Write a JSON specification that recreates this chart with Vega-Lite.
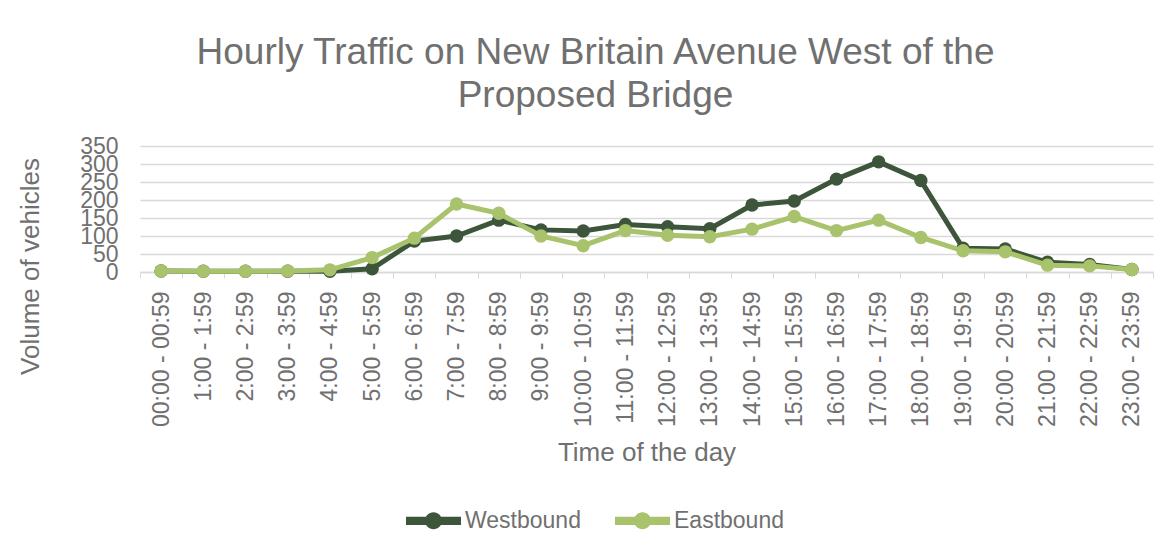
{
  "$schema": "https://vega.github.io/schema/vega-lite/v6.json",
  "autosize": {"type": "none"},
  "width": 1013,
  "height": 126,
  "padding": {"left": 140, "top": 146, "right": 18, "bottom": 282},
  "background": "white",
  "config": {
    "font": "Liberation Sans",
    "view": {"stroke": null},
    "axis": {"labelFont": "Liberation Sans", "titleFont": "Liberation Sans", "labelColor": "#707070", "titleColor": "#707070", "titleFontWeight": "normal"},
    "title": {"font": "Liberation Sans", "color": "#707070", "fontWeight": "normal"},
    "legend": {"labelFont": "Liberation Sans", "labelColor": "#707070"}
  },
  "title": {
    "text": ["Hourly Traffic on New Britain Avenue West of the", "Proposed Bridge"],
    "fontSize": 37,
    "lineHeight": 43,
    "anchor": "middle",
    "dx": -51,
    "offset": 20
  },
  "datasets": {
    "traffic": [
      {"time": "00:00 - 00:59", "dir": "Westbound", "v": 3},
      {"time": "1:00 - 1:59", "dir": "Westbound", "v": 2},
      {"time": "2:00 - 2:59", "dir": "Westbound", "v": 2},
      {"time": "3:00 - 3:59", "dir": "Westbound", "v": 2},
      {"time": "4:00 - 4:59", "dir": "Westbound", "v": 2},
      {"time": "5:00 - 5:59", "dir": "Westbound", "v": 9},
      {"time": "6:00 - 6:59", "dir": "Westbound", "v": 86},
      {"time": "7:00 - 7:59", "dir": "Westbound", "v": 100},
      {"time": "8:00 - 8:59", "dir": "Westbound", "v": 144},
      {"time": "9:00 - 9:59", "dir": "Westbound", "v": 117},
      {"time": "10:00 - 10:59", "dir": "Westbound", "v": 114},
      {"time": "11:00 - 11:59", "dir": "Westbound", "v": 132},
      {"time": "12:00 - 12:59", "dir": "Westbound", "v": 126},
      {"time": "13:00 - 13:59", "dir": "Westbound", "v": 120},
      {"time": "14:00 - 14:59", "dir": "Westbound", "v": 186},
      {"time": "15:00 - 15:59", "dir": "Westbound", "v": 197},
      {"time": "16:00 - 16:59", "dir": "Westbound", "v": 258},
      {"time": "17:00 - 17:59", "dir": "Westbound", "v": 306},
      {"time": "18:00 - 18:59", "dir": "Westbound", "v": 254},
      {"time": "19:00 - 19:59", "dir": "Westbound", "v": 66},
      {"time": "20:00 - 20:59", "dir": "Westbound", "v": 64},
      {"time": "21:00 - 21:59", "dir": "Westbound", "v": 27},
      {"time": "22:00 - 22:59", "dir": "Westbound", "v": 21},
      {"time": "23:00 - 23:59", "dir": "Westbound", "v": 7},
      {"time": "00:00 - 00:59", "dir": "Eastbound", "v": 3},
      {"time": "1:00 - 1:59", "dir": "Eastbound", "v": 2},
      {"time": "2:00 - 2:59", "dir": "Eastbound", "v": 2},
      {"time": "3:00 - 3:59", "dir": "Eastbound", "v": 3},
      {"time": "4:00 - 4:59", "dir": "Eastbound", "v": 6},
      {"time": "5:00 - 5:59", "dir": "Eastbound", "v": 40},
      {"time": "6:00 - 6:59", "dir": "Eastbound", "v": 94},
      {"time": "7:00 - 7:59", "dir": "Eastbound", "v": 189},
      {"time": "8:00 - 8:59", "dir": "Eastbound", "v": 163},
      {"time": "9:00 - 9:59", "dir": "Eastbound", "v": 100},
      {"time": "10:00 - 10:59", "dir": "Eastbound", "v": 73},
      {"time": "11:00 - 11:59", "dir": "Eastbound", "v": 115},
      {"time": "12:00 - 12:59", "dir": "Eastbound", "v": 102},
      {"time": "13:00 - 13:59", "dir": "Eastbound", "v": 98},
      {"time": "14:00 - 14:59", "dir": "Eastbound", "v": 119},
      {"time": "15:00 - 15:59", "dir": "Eastbound", "v": 154},
      {"time": "16:00 - 16:59", "dir": "Eastbound", "v": 115},
      {"time": "17:00 - 17:59", "dir": "Eastbound", "v": 144},
      {"time": "18:00 - 18:59", "dir": "Eastbound", "v": 96},
      {"time": "19:00 - 19:59", "dir": "Eastbound", "v": 59},
      {"time": "20:00 - 20:59", "dir": "Eastbound", "v": 56},
      {"time": "21:00 - 21:59", "dir": "Eastbound", "v": 19},
      {"time": "22:00 - 22:59", "dir": "Eastbound", "v": 17},
      {"time": "23:00 - 23:59", "dir": "Eastbound", "v": 7}
    ]
  },
  "data": {"name": "traffic"},
  "encoding": {
    "x": {
      "field": "time",
      "type": "nominal",
      "sort": null,
      "bandPosition": 0.5,
      "scale": {"type": "band", "paddingInner": 0, "paddingOuter": 0},
      "axis": {
        "title": "Time of the day",
        "titleFontSize": 26,
        "titleY": 180,
        "titleBaseline": "middle",
        "labelAngle": -90,
        "labelAlign": "right",
        "labelBaseline": "middle",
        "labelFontSize": 23,
        "labelPadding": 13,
        "labelOverlap": false,
        "tickBand": "extent",
        "tickSize": 6,
        "tickColor": "#d9d9d9",
        "domainColor": "#d9d9d9",
        "domainWidth": 1.5,
        "grid": false
      }
    },
    "y": {
      "field": "v",
      "type": "quantitative",
      "scale": {"domain": [0, 350], "nice": false},
      "axis": {
        "title": "Volume of vehicles",
        "titleFontSize": 26,
        "titleX": -110,
        "titleY": 120,
        "titleBaseline": "middle",
        "titleAlign": "center",
        "values": [0, 50, 100, 150, 200, 250, 300, 350],
        "labelFontSize": 23,
        "labelPadding": 22,
        "labelOverlap": false,
        "labelFlush": false,
        "labelBound": false,
        "ticks": false,
        "domain": false,
        "grid": true,
        "gridColor": "#d9d9d9",
        "gridWidth": 1.5
      }
    },
    "color": {
      "field": "dir",
      "type": "nominal",
      "scale": {"domain": ["Westbound", "Eastbound"], "range": ["#3d553a", "#a8c36b"]},
      "legend": {
        "title": null,
        "orient": "none",
        "direction": "horizontal",
        "legendX": 266,
        "legendY": 347,
        "labelFontSize": 23,
        "columnPadding": 34,
        "symbolSize": 3025,
        "symbolType": "M-1,-0.15H1V0.15H-1Z M0.31,0A0.31,0.31 0 1,1 -0.31,0A0.31,0.31 0 1,1 0.31,0Z",
        "symbolStrokeWidth": 0,
        "labelOffset": 4,
        "encode": {"symbols": {"update": {"fill": {"scale": "color", "field": "value"}, "stroke": {"value": "transparent"}, "fillOpacity": {"value": 1}}}}
      }
    }
  },
  "layer": [
    {"transform": [{"filter": "datum.dir == 'Westbound'"}], "mark": {"type": "line", "strokeWidth": 5}},
    {"transform": [{"filter": "datum.dir == 'Westbound'"}], "mark": {"type": "point", "filled": true, "size": 180, "opacity": 1}},
    {"transform": [{"filter": "datum.dir == 'Eastbound'"}], "mark": {"type": "line", "strokeWidth": 5}},
    {"transform": [{"filter": "datum.dir == 'Eastbound'"}], "mark": {"type": "point", "filled": true, "size": 180, "opacity": 1}}
  ]
}
